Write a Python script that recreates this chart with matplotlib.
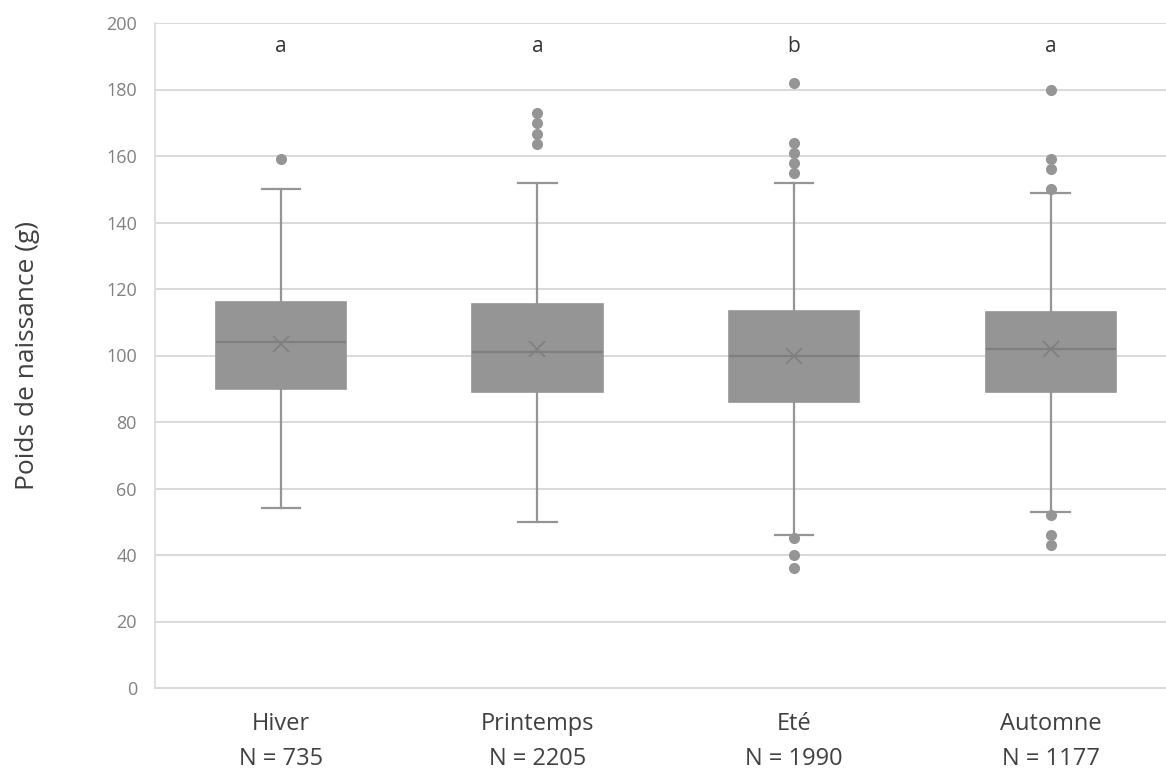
import matplotlib
matplotlib.use("Agg")
import matplotlib.pyplot as plt

# valeurs
saisons = ["Hiver", "Printemps", "Eté", "Automne"]
effectifs = [735, 2205, 1990, 1177]
lettres = ["a", "a", "b", "a"]

q1 = [90, 89, 86, 89]
mediane = [104, 101, 100, 102]
q3 = [116, 115.5, 113.5, 113]
moyenne = [103.5, 102, 100, 102]
moust_bas = [54, 50, 46, 53]
moust_haut = [150, 152, 152, 149]
extremes = [
   [159],
   [173, 170, 166.5, 163.5],
   [182, 164, 161, 158, 155, 45, 40, 36],
   [180, 159, 156, 150, 52, 46, 43],
]

plt.rcParams['font.family'] = ['Open Sans', 'DejaVu Sans']

GRIS = "#959595"
GRIS_FONCE = "#7f7f7f"

stats = []
for i in range(len(saisons)):
   stats.append({
      "label": saisons[i] + "\nN = " + str(effectifs[i]),
      "q1": q1[i], "med": mediane[i], "q3": q3[i],
      "whislo": moust_bas[i], "whishi": moust_haut[i],
      "mean": moyenne[i], "fliers": extremes[i],
   })

fig = plt.figure(figsize=(11.66, 7.78), dpi=100)
ax = fig.add_axes([155 / 1166, 1 - 688 / 778, 1 - 155 / 1166, (688 - 23) / 778])

ax.bxp(stats, positions=[1, 2, 3, 4], widths=0.507, capwidths=0.15,
       showmeans=True, patch_artist=True,
       boxprops=dict(facecolor=GRIS, edgecolor=GRIS, linewidth=1.2),
       medianprops=dict(color=GRIS_FONCE, linewidth=1.6),
       whiskerprops=dict(color=GRIS, linewidth=1.6),
       capprops=dict(color=GRIS, linewidth=1.6),
       meanprops=dict(marker='x', markeredgecolor=GRIS_FONCE, markersize=11, markeredgewidth=1.2),
       flierprops=dict(marker='o', markerfacecolor=GRIS, markeredgecolor=GRIS, markersize=7))

for i in range(len(lettres)):
   ax.text(i + 1, 193, lettres[i], ha='center', va='center', fontsize=15, color="#333333")

ax.set_ylim(0, 200)
ax.set_xlim(0.509, 4.45)
ax.set_yticks(range(0, 201, 20))
ax.yaxis.grid(True, color="#d9d9d9", linewidth=1.4)
ax.set_axisbelow(True)

for s in ["top", "right"]:
   ax.spines[s].set_visible(False)
ax.spines["left"].set_color("#d9d9d9")
ax.spines["bottom"].set_color("#d9d9d9")
ax.spines["left"].set_linewidth(1.2)
ax.spines["bottom"].set_linewidth(1.4)

ax.tick_params(axis='y', length=0, pad=13, labelsize=13, labelcolor="#808080")
ax.tick_params(axis='x', length=0, pad=17, labelsize=17, labelcolor="#404040")
for lab in ax.get_xticklabels():
   lab.set_linespacing(1.65)

ax.set_ylabel("Poids de naissance (g)", fontsize=19, color="#404040")
ax.yaxis.set_label_coords(-0.114, 0.5)

fig.savefig("out.png", dpi=100)
